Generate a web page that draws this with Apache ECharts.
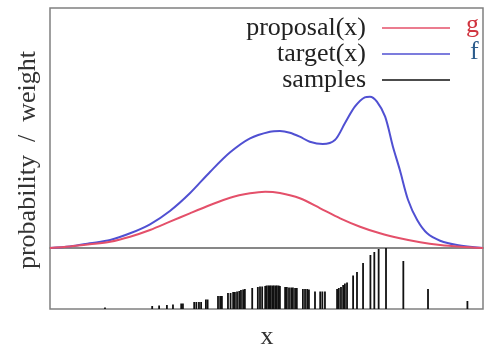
<!DOCTYPE html>
<html><head><meta charset="utf-8">
<script src="https://cdn.jsdelivr.net/npm/echarts@6/dist/echarts.min.js"></script>
<style>html,body{margin:0;padding:0;background:#fff}#c{width:484px;height:347px}</style>
</head><body><div id="c"></div><script>
// target(x) curve: positions (x in 0..10) and heights
const targetX = [0, 0.46, 0.92, 1.39, 1.85, 2.31, 2.77, 3.23, 3.70, 4.16, 4.62, 5.08, 5.31, 5.54, 5.77, 6.00, 6.30, 6.58, 6.81, 7.04, 7.27, 7.39, 7.55, 7.74, 7.92, 8.08, 8.27, 8.48, 8.71, 9.01, 9.40, 10.0];
const target  = [0, 1.5, 4.7, 8, 14.7, 23.7, 37, 54.7, 76.3, 95.7, 109.7, 116.3, 117, 115.3, 111.3, 106.3, 104, 108, 124.7, 141.3, 150.7, 151.3, 146.3, 131.3, 101.3, 78, 48, 28, 14.7, 7.3, 3, 0];
// proposal(x) curve
const proposalX = [0, 0.46, 0.92, 1.39, 1.85, 2.31, 2.77, 3.23, 3.70, 4.16, 4.62, 4.97, 5.31, 5.77, 6.24, 6.70, 7.16, 7.62, 8.08, 8.55, 9.01, 9.47, 10.0];
const proposal  = [0, 1.5, 3.7, 6.3, 11.3, 18, 26.3, 34.7, 43, 50.3, 54.7, 56.3, 55, 49.7, 39.7, 29.7, 21.3, 14.7, 9.7, 5.7, 3, 1.3, 0];
// samples: positions and weights
const sampleX = [1.27,2.36,2.52,2.70,2.84,3.03,3.07,3.33,3.38,3.44,3.49,3.60,3.64,3.88,3.93,3.97,4.11,4.17,4.23,4.27,4.32,4.37,4.41,4.46,4.50,4.67,4.80,4.85,4.90,4.97,5.00,5.04,5.07,5.10,5.14,5.17,5.21,5.24,5.28,5.31,5.43,5.47,5.52,5.57,5.61,5.66,5.70,5.84,5.89,5.94,5.98,6.12,6.24,6.29,6.35,6.63,6.67,6.72,6.77,6.81,6.86,7.00,7.09,7.23,7.40,7.49,7.59,7.76,8.16,8.73,9.64];
const sampleW = [1.5,3,3.5,4,4.5,5.5,5.5,7,7,7,7,9.5,9.5,13,13,13,16,16,17,17,17.5,18,19,19.5,20,21,22,22.5,22.5,23,23.5,23.5,23.5,23.5,23.5,23.5,23.5,23.5,23.5,23,22,22,21.5,21.5,21.5,21,21,20,20,20,19.5,17.5,17.5,17.5,17.5,20,21,22,24,25.5,26.5,33.5,37,46,54,57,60,61,48,20,8];
const legendNames = ['proposal(x)', 'target(x)', 'samples'];

const zip = (a, b) => a.map((v, i) => [v, b[i]]);
const serif = 'Liberation Serif, Times New Roman, serif';
const chart = echarts.init(document.getElementById('c'), null, {renderer: 'canvas'});
const axisOff = {show: false};
chart.setOption({
  animation: false,
  backgroundColor: '#fff',
  grid: [
    {left: 50, top: 8, width: 433, height: 240, show: true, borderColor: '#808080', borderWidth: 1.5, backgroundColor: 'transparent'},
    {left: 50, top: 248, width: 433, height: 61, show: true, borderColor: '#808080', borderWidth: 1.5, backgroundColor: 'transparent'}
  ],
  xAxis: [
    {type: 'value', gridIndex: 0, min: 0, max: 10, axisLine: axisOff, axisTick: axisOff, axisLabel: axisOff, splitLine: axisOff},
    {type: 'value', gridIndex: 1, min: 0, max: 10, axisLine: axisOff, axisTick: axisOff, axisLabel: axisOff, splitLine: axisOff}
  ],
  yAxis: [
    {type: 'value', gridIndex: 0, min: 0, max: 240, axisLine: axisOff, axisTick: axisOff, axisLabel: axisOff, splitLine: axisOff},
    {type: 'value', gridIndex: 1, min: 0, max: 61, axisLine: axisOff, axisTick: axisOff, axisLabel: axisOff, splitLine: axisOff}
  ],
  legend: {
    data: legendNames,
    orient: 'vertical', right: 34, top: 15, align: 'right', padding: 0,
    itemWidth: 68, itemHeight: 1.6, itemGap: 0, icon: 'rect',
    textStyle: {fontFamily: serif, fontSize: 26, color: '#222', padding: [0, 11, 0, 0]}
  },
  series: [
    {name: legendNames[2], type: 'bar', xAxisIndex: 1, yAxisIndex: 1, barWidth: 1.8,
     itemStyle: {color: '#111'}, data: zip(sampleX, sampleW)},
    {name: legendNames[1], type: 'line', xAxisIndex: 0, yAxisIndex: 0, smooth: 0.3, showSymbol: false,
     lineStyle: {color: '#5050d2', width: 2}, itemStyle: {color: '#5050d2'}, data: zip(targetX, target), z: 3},
    {name: legendNames[0], type: 'line', xAxisIndex: 0, yAxisIndex: 0, smooth: 0.3, showSymbol: false,
     lineStyle: {color: '#e4506a', width: 2}, itemStyle: {color: '#e4506a'}, data: zip(proposalX, proposal), z: 4}
  ],
  graphic: [
    {type: 'text', left: 466, top: 12, style: {text: 'g', font: '26px ' + serif, fill: '#d0343f'}},
    {type: 'text', left: 470, top: 39, style: {text: 'f', font: '26px ' + serif, fill: '#2c5c8c'}},
    {type: 'text', x: 28, y: 160, rotation: Math.PI / 2,
     style: {text: 'probability  /  weight', font: '26px ' + serif, fill: '#333', align: 'center', verticalAlign: 'middle'}},
    {type: 'text', x: 267, y: 337, style: {text: 'x', font: '26px ' + serif, fill: '#333', align: 'center', verticalAlign: 'middle'}}
  ]
});
</script></body></html>
